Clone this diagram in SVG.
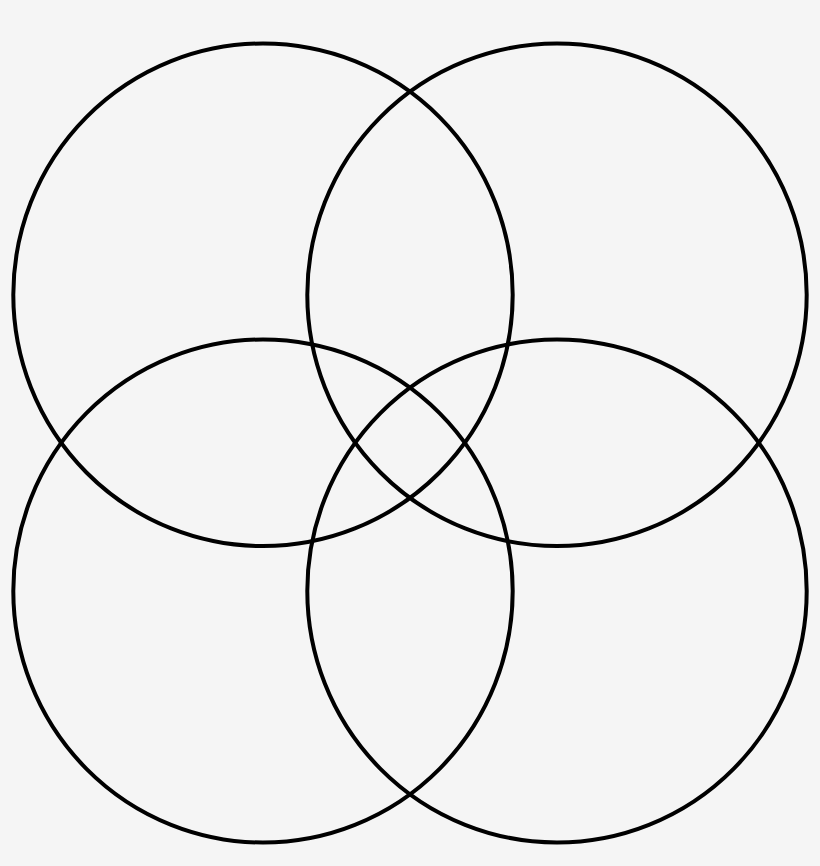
<svg xmlns="http://www.w3.org/2000/svg" width="820" height="866" viewBox="0 0 820 866">
<style>
.c{fill:none;stroke:#000;stroke-width:4}
</style>
<rect width="820" height="866" fill="#f5f5f5"/>
<g id="circle-top-left"><ellipse class="c" cx="263" cy="294.8" rx="249.7" ry="251.3"/></g>
<g id="circle-top-right"><ellipse class="c" cx="557" cy="294.8" rx="249.7" ry="251.3"/></g>
<g id="circle-bottom-left"><ellipse class="c" cx="263" cy="591" rx="249.7" ry="251.5"/></g>
<g id="circle-bottom-right"><ellipse class="c" cx="557" cy="591" rx="249.7" ry="251.5"/></g>
<g id="connectors"></g>
</svg>
